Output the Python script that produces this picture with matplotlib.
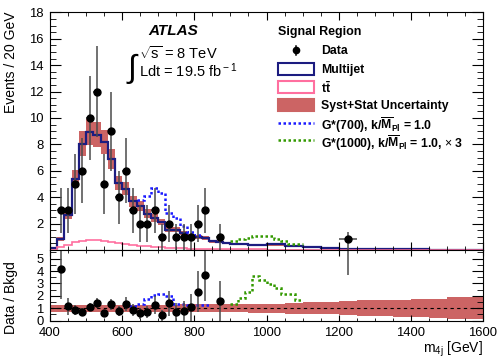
# m4j distribution, signal region, with data/bkg ratio
import numpy as np
import matplotlib
matplotlib.use("Agg")
from matplotlib import pyplot as plt
from matplotlib.patches import Rectangle
from matplotlib.lines import Line2D
from matplotlib.ticker import MultipleLocator

plt.rcParams['font.family'] = ['Liberation Sans', 'DejaVu Sans']
plt.rcParams['mathtext.fontset'] = 'custom'
plt.rcParams['mathtext.rm'] = 'Liberation Sans'
plt.rcParams['mathtext.it'] = 'Liberation Sans:italic'
plt.rcParams['mathtext.bf'] = 'Liberation Sans:bold'

# ---- data ----
# background binning: 20 GeV up to 900, 50 GeV above
edges = np.concatenate([np.arange(400, 900, 20), np.arange(900, 1601, 50)])

multijet = np.array([0.16, 0.8, 2.68, 5.39, 8.06, 8.92, 8.74, 8.19, 6.9, 5.08, 4.63, 3.69, 3.31,
                     2.76, 2.43, 2.13, 1.55, 1.55, 1.3, 1.09, 0.99, 0.92, 0.66, 0.62, 0.54,
                     0.45, 0.37, 0.42, 0.3, 0.22, 0.12, 0.09, 0.07, 0.08, 0.05, 0.06, 0.03, 0.03, 0.02])
bkg_unc = np.array([0.1, 0.15, 0.35, 0.65, 0.95, 1.0, 0.95, 0.9, 0.75, 0.55, 0.5, 0.42, 0.38,
                    0.32, 0.28, 0.25, 0.2, 0.2, 0.17, 0.15, 0.14, 0.13, 0.11, 0.1, 0.1,
                    0.1, 0.09, 0.1, 0.08, 0.07, 0.05, 0.04, 0.04, 0.04, 0.03, 0.03, 0.02, 0.02, 0.02])
ttbar = np.array([0.0, 0.2, 0.4, 0.58, 0.7, 0.75, 0.75, 0.68, 0.6, 0.52, 0.45, 0.4, 0.33,
                  0.28, 0.24, 0.21, 0.18, 0.15, 0.13, 0.11, 0.1, 0.09, 0.08, 0.07, 0.06,
                  0.05, 0.04, 0.03, 0.03, 0.02, 0.02, 0.01, 0.01, 0.01, 0.0, 0.0, 0.0, 0.0, 0.0])
ratio_unc = np.array([0.3, 0.28, 0.28, 0.28, 0.29, 0.29, 0.29, 0.3, 0.3, 0.3, 0.3, 0.3, 0.3,
                      0.3, 0.3, 0.3, 0.3, 0.3, 0.31, 0.31, 0.31, 0.31, 0.32, 0.32, 0.32,
                      0.33, 0.35, 0.36, 0.43, 0.47, 0.5, 0.58, 0.63, 0.66, 0.67, 0.73, 0.78, 0.9, 0.9])

# signals (stacked on background), 20 GeV bins
g700_edges = np.arange(640, 821, 20)
g700_total = [3.8, 4.1, 4.7, 4.35, 2.8, 2.43, 1.8, 1.35, 1.1]
g1000_edges = np.arange(900, 1101, 20)
g1000_total = [0.71, 0.84, 0.92, 1.09, 1.09, 1.09, 0.84, 0.66, 0.46, 0.46]

g700_ratio_edges = np.arange(620, 841, 20)
g700_ratio = [1.18, 1.35, 1.75, 2.05, 2.13, 2.0, 1.35, 1.32, 1.27, 1.27, 1.25]
g1000_ratio_edges = np.arange(900, 1101, 20)
g1000_ratio = [1.35, 1.8, 2.3, 3.63, 3.28, 2.93, 2.6, 2.13, 2.13, 1.65]

# data points
data_x = [430, 450, 470, 490, 510, 530, 550, 570, 590, 610, 630, 650, 670, 690, 710,
          730, 750, 770, 790, 810, 830, 870, 1225]
data_xerr = [10] * 22 + [25]
data_y = np.array([3, 3, 5, 6, 10, 12, 5, 9, 4, 6, 3, 2, 2, 3, 1, 2, 1, 1, 1, 2, 3, 1, 0.8])
data_ratio = np.array([4.14, 1.18, 0.9, 0.7, 1.1, 1.45, 0.6, 1.33, 0.8, 1.33, 0.85, 0.6, 0.7,
                       1.25, 0.45, 1.4, 0.7, 0.8, 1.07, 2.33, 3.67, 1.6, 10.0])

err_lo = np.sqrt(data_y)
err_hi = np.sqrt(data_y)
err_lo[-1] = 0.8
err_hi[-1] = 0.55
ratio_err = data_ratio / np.sqrt(data_y)
ratio_err[-1] = 6.3

navy = '#1c1c80'
pink = '#ff6f9f'
band = '#cc6464'
blue = '#1a1aff'
green = '#339900'
ebar = '#4a4a4a'
dots = (0, (1, 1))

# ---- figure ----
fig = plt.figure(figsize=(4.98, 3.58), dpi=100)
ax = fig.add_axes([0.1004, 0.3017, 0.8695, 0.6656])
rax = fig.add_axes([0.1004, 0.1042, 0.8695, 0.1975])

# main panel
ax.stairs(multijet + bkg_unc, edges, baseline=multijet - bkg_unc, fill=True, color=band, lw=0)
ax.stairs(multijet, edges, baseline=None, color=navy, lw=1.6)
ax.stairs(ttbar, edges, baseline=None, color=pink, lw=1.2)
ax.stairs(g700_total, g700_edges, baseline=None, color=blue, lw=1.8, ls=dots)
ax.stairs(g1000_total, g1000_edges, baseline=None, color=green, lw=1.8, ls=dots)
ax.errorbar(data_x, data_y, yerr=[err_lo, err_hi], xerr=data_xerr, fmt='o', color='black',
            ecolor=ebar, ms=5, elinewidth=1.1, capsize=0)

# ratio panel
rax.stairs(1 + ratio_unc, edges, baseline=1 - ratio_unc, fill=True, color=band, lw=0)
rax.axhline(1, color='black', ls=(0, (3, 3)), lw=0.8)
rax.stairs(g700_ratio, g700_ratio_edges, baseline=None, color=blue, lw=1.8, ls=dots)
rax.stairs(g1000_ratio, g1000_ratio_edges, baseline=None, color=green, lw=1.8, ls=dots)
rax.errorbar(data_x, data_ratio, yerr=ratio_err, fmt='o', color='black',
             ecolor=ebar, ms=5, elinewidth=1.1, capsize=0)

# axes styling
for a in (ax, rax):
    a.set_xlim(400, 1600)
    a.xaxis.set_major_locator(MultipleLocator(200))
    a.xaxis.set_minor_locator(MultipleLocator(50))
    a.tick_params(which='both', direction='in', top=True, right=True, labelsize=9.4)
    a.tick_params(axis='y', which='major', length=8, pad=4.5)
    a.tick_params(axis='y', which='minor', length=4.3)

ax.set_ylim(0, 18.05)
ax.set_yticks(np.arange(2, 19, 2))
ax.yaxis.set_minor_locator(MultipleLocator(0.5))
ax.tick_params(axis='x', which='major', length=6)
ax.tick_params(axis='x', which='minor', length=3)
ax.tick_params(labelbottom=False)

rax.set_ylim(0, 5.7)
rax.set_yticks(np.arange(0, 6, 1))
rax.yaxis.set_minor_locator(MultipleLocator(0.5))
rax.tick_params(axis='x', which='major', length=4.5, pad=4.5)
rax.tick_params(axis='x', which='minor', length=2.5)

ax.set_ylabel("Events / 20 GeV", fontsize=10, loc='top')
ax.yaxis.set_label_coords(-0.075, 1.0)
rax.set_ylabel("Data / Bkgd", fontsize=10)
rax.yaxis.set_label_coords(-0.075, 0.32)
rax.set_xlabel(r"m$_{\rm 4j}$ [GeV]", fontsize=10, loc='right', labelpad=0.5)

# ATLAS label
def fx(px):
    return px / 498.0


def fy(py):
    return 1 - py / 358.0


fig.text(fx(173), fy(31), "ATLAS", fontsize=11, fontweight='bold', fontstyle='italic',
         ha='center', va='center')
fig.text(fx(139), fy(53), r"$\sqrt{\rm s}$ = 8 TeV", fontsize=10.5, ha='left', va='center')
fig.text(fx(132), fy(69), "\u222b", fontsize=23, ha='center', va='center')
fig.text(fx(139), fy(71), r"Ldt = 19.5 fb$^{\rm -1}$", fontsize=10.5, ha='left', va='center')

# legend, drawn by hand in ROOT style
leg_x0, leg_x1, leg_tx = 278, 314, 321
fig.text(fx(leg_x0), fy(32), "Signal Region", fontsize=9, fontweight='bold',
         ha='left', va='center')
leg_rows = [50, 68.5, 86.7, 104.5, 122.7, 140.5]
labels = [
    "Data",
    "Multijet",
    r"$\mathbf{t\bar{t}}$",
    "Syst+Stat Uncertainty",
    r"G*(700), k/$\overline{\mathbf{M}}_{\mathbf{Pl}}$ = 1.0",
    r"G*(1000), k/$\overline{\mathbf{M}}_{\mathbf{Pl}}$ = 1.0, $\times$ 3",
]
for py, lab in zip(leg_rows, labels):
    fig.text(fx(leg_tx), fy(py), lab, fontsize=8.8, fontweight='bold',
             ha='left', va='center_baseline')

xc = (leg_x0 + leg_x1) / 2
fig.add_artist(Line2D([fx(xc), fx(xc)], [fy(leg_rows[0] - 4.5), fy(leg_rows[0] + 4.5)],
                      color='black', lw=1.1, transform=fig.transFigure))
fig.add_artist(Line2D([fx(xc)], [fy(leg_rows[0])], marker='o', ms=4.5, color='black',
                      transform=fig.transFigure))
for py, ec, fc in [(leg_rows[1], navy, 'white'), (leg_rows[2], pink, 'white'),
                   (leg_rows[3], band, band)]:
    fig.add_artist(Rectangle((fx(leg_x0), fy(py + 6)), fx(leg_x1) - fx(leg_x0),
                             fy(py - 6) - fy(py + 6), facecolor=fc, edgecolor=ec,
                             lw=1.5, transform=fig.transFigure))
for py, col in [(leg_rows[4], blue), (leg_rows[5], green)]:
    fig.add_artist(Line2D([fx(leg_x0), fx(leg_x1)], [fy(py), fy(py)], color=col, lw=1.8,
                          ls=dots, transform=fig.transFigure))

fig.savefig("out.png", dpi=100)
